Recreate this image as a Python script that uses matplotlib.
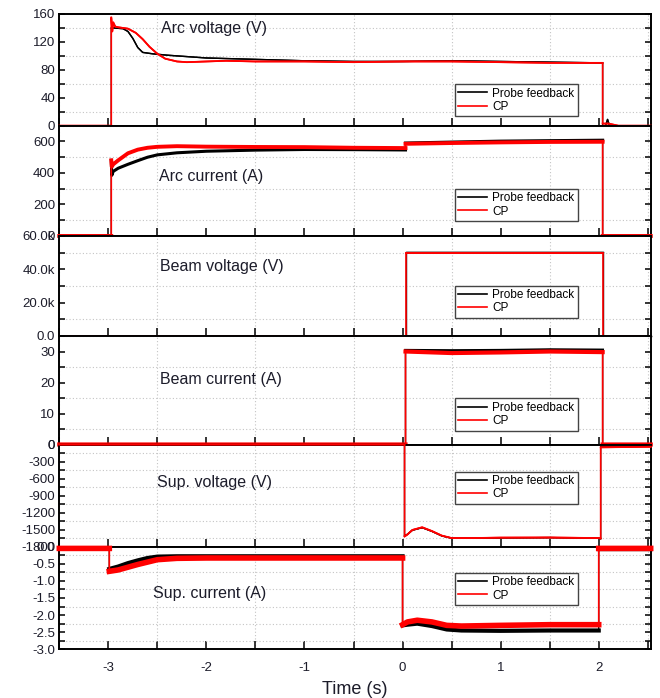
"""Six stacked time traces: probe feedback vs CP for arc, beam and suppressor supplies."""

import matplotlib
matplotlib.use("Agg")
import matplotlib.pyplot as plt
import numpy as np
from matplotlib.ticker import FuncFormatter, MultipleLocator

plt.rcParams["font.family"] = ["Liberation Sans", "DejaVu Sans"]
plt.rcParams["axes.unicode_minus"] = False

# ---- data (time in s) ----
arc_v_probe_t = [-3.5, -2.97, -2.97, -2.95, -2.85, -2.8, -2.75, -2.7, -2.65, -2.55, -2.4, -2.2,
                 -2.0, -1.5, -1.0, -0.5, 0.0, 0.5, 1.0, 1.5, 2.04, 2.04, 2.07, 2.09, 2.11, 2.53]
arc_v_probe = [0, 0, 140, 140, 139, 135, 125, 112, 105, 103, 101, 99,
               97, 95, 93, 92, 92, 93, 92, 91, 90, 0, 0, 9, 0, 0]
arc_v_cp_t = [-3.5, -2.97, -2.97, -2.96, -2.95, -2.93, -2.9, -2.8, -2.72, -2.65, -2.58, -2.5,
              -2.42, -2.3, -2.2, -2.0, -1.8, -1.5, -1.0, -0.5, 0.0, 0.5, 1.0, 1.5, 2.04, 2.04,
              2.1, 2.2, 2.53]
arc_v_cp = [0, 0, 155, 135, 148, 142, 141, 139, 133, 124, 113, 103,
            96, 92, 91, 92, 93, 92, 92, 91, 92, 92, 91, 90, 90, 3,
            3, 0, 0]

arc_i_t = [-3.5, -2.97, -2.97, -2.965, -2.95, -2.9, -2.8, -2.7, -2.6, -2.5, -2.3, -2.0,
           -1.5, -1.0, -0.5, 0.03, 0.03, 0.5, 1.0, 1.5, 2.04, 2.04, 2.53]
arc_i_probe = [0, 0, 480, 385, 410, 430, 455, 478, 500, 515, 528, 538,
               545, 549, 548, 546, 590, 596, 602, 605, 608, 0, 0]
arc_i_cp = [0, 0, 480, 440, 455, 480, 525, 548, 560, 566, 570, 567,
            565, 564, 560, 558, 585, 590, 594, 597, 598, 0, 0]

beam_v_t = [-3.5, 0.03, 0.03, 2.04, 2.04, 2.53]
beam_v_probe = [0, 0, 50500, 50500, 0, 0]
beam_v_cp = [0, 0, 50000, 50000, 0, 0]

beam_i_t = [-3.5, 0.03, 0.03, 0.5, 1.0, 1.5, 2.04, 2.04, 2.53]
beam_i_probe = [0, 0, 30.4, 30.3, 30.4, 30.6, 30.5, 0, 0]
beam_i_cp = [0, 0, 30.0, 29.5, 29.7, 30.0, 29.8, 0, 0]

sup_v_t = [-3.5, 0.02, 0.02, 0.05, 0.1, 0.2, 0.3, 0.4, 0.5, 0.7, 1.0, 1.5, 2.0, 2.02, 2.02, 2.53]
sup_v_probe = [0, 0, -1610, -1580, -1510, -1465, -1530, -1610, -1650, -1650, -1645, -1640,
               -1650, -1660, -40, -30]
sup_v_cp = [0, 0, -1620, -1585, -1505, -1458, -1525, -1605, -1648, -1648, -1640, -1638,
            -1648, -1655, -50, -40]

sup_i_t = [-3.5, -2.99, -2.99, -2.9, -2.8, -2.7, -2.6, -2.5, -2.3, -2.0, -1.0, 0.0, 0.0,
           0.05, 0.15, 0.3, 0.45, 0.6, 1.0, 1.5, 2.0, 2.0, 2.53]
sup_i_probe = [-0.05, -0.05, -0.65, -0.58, -0.48, -0.40, -0.33, -0.29, -0.28, -0.28, -0.28,
               -0.28, -2.3, -2.28, -2.25, -2.32, -2.42, -2.45, -2.46, -2.45, -2.45, -0.07, -0.07]
sup_i_cp = [-0.05, -0.05, -0.72, -0.68, -0.60, -0.52, -0.45, -0.38, -0.34, -0.33, -0.33,
            -0.33, -2.28, -2.2, -2.15, -2.2, -2.3, -2.32, -2.30, -2.28, -2.28, -0.05, -0.05]

panel_titles = ["Arc voltage (V)", "Arc current (A)", "Beam voltage (V)",
                "Beam current (A)", "Sup. voltage (V)", "Sup. current (A)"]
x_ticks = [-3, -2, -1, 0, 1, 2]

# ---- layout (pixel edges of the stacked panels) ----
W, H = 660, 698
LEFT, RIGHT = 59.3, 650.7
EDGES = [14, 125.7, 236, 336, 444.5, 546.7, 649.3]
TEXT_COLOR = "#1c1c2a"


def kilo(value, _pos):
    return "0.0" if value == 0 else f"{value / 1000:.1f}k"


def one_decimal(value, _pos):
    return f"{value:.1f}"


def break_steps(t, y):
    """Split a trace at its vertical steps so a noisy band can be drawn thick."""
    t_out, y_out = [t[0]], [y[0]]
    for i in range(1, len(t)):
        if t[i] == t[i - 1]:
            t_out.append(np.nan)
            y_out.append(np.nan)
        t_out.append(t[i])
        y_out.append(y[i])
    return t_out, y_out


panels = [
    # t_probe, probe, t_cp, cp, ylim, major, minor, formatter, band lw (probe, cp), label xy, legend y
    (arc_v_probe_t, arc_v_probe, arc_v_cp_t, arc_v_cp, (0, 160), 40, 20, None, (1.0, 1.3), (0.172, 0.866), 0.373),
    (arc_i_t, arc_i_probe, arc_i_t, arc_i_cp, (0, 700), 200, 100, None, (2.2, 2.8), (0.169, 0.536), 0.427),
    (beam_v_t, beam_v_probe, beam_v_t, beam_v_cp, (0, 60000), 20000, 10000, kilo, (1.0, 1.3), (0.170, 0.70), 0.503),
    (beam_i_t, beam_i_probe, beam_i_t, beam_i_cp, (0, 35), 10, 5, None, (2.0, 3.0), (0.170, 0.60), 0.426),
    (sup_v_t, sup_v_probe, sup_v_t, sup_v_cp, (-1800, 0), 300, 150, None, (1.0, 1.3), (0.165, 0.63), 0.735),
    (sup_i_t, sup_i_probe, sup_i_t, sup_i_cp, (-3, 0), 0.5, 0.25, one_decimal, (3.0, 4.0), (0.158, 0.54), 0.745),
]

fig = plt.figure(figsize=(W / 100, H / 100), dpi=100)

axes = []
for idx, (tp, yp, tc, yc, ylim, major, minor, fmt, band_lw, label_xy, leg_y) in enumerate(panels):
    top, bottom = EDGES[idx], EDGES[idx + 1]
    ax = fig.add_axes([LEFT / W, 1 - bottom / H, (RIGHT - LEFT) / W, (bottom - top) / H])
    axes.append(ax)

    # thin trace including the vertical steps, then the thicker noisy band without them
    ax.plot(tp, yp, color="black", lw=1.0, label="Probe feedback", zorder=3, clip_on=False)
    ax.plot(*break_steps(tp, yp), color="black", lw=band_lw[0], zorder=3, clip_on=False)
    ax.plot(tc, yc, color="#ff0000", lw=1.2, label="CP", zorder=4, clip_on=False)
    ax.plot(*break_steps(tc, yc), color="#ff0000", lw=band_lw[1], zorder=4, clip_on=False)

    ax.set_xlim(-3.5, 2.53)
    ax.set_ylim(*ylim)
    ax.xaxis.set_major_locator(MultipleLocator(1))
    ax.xaxis.set_minor_locator(MultipleLocator(0.5))
    ax.yaxis.set_major_locator(MultipleLocator(major))
    ax.yaxis.set_minor_locator(MultipleLocator(minor))
    if fmt is not None:
        ax.yaxis.set_major_formatter(FuncFormatter(fmt))

    ax.grid(which="minor", color="#c4c4c4", linestyle=(0, (1, 2)), linewidth=0.8)
    ax.grid(which="major", visible=False)

    ax.tick_params(axis="y", which="both", direction="in", length=4, width=1.1,
                   left=True, right=True, labelsize=9.5, labelcolor=TEXT_COLOR, pad=3)
    ax.tick_params(axis="x", which="both", direction="in", length=6, width=1.1,
                   bottom=True, top=False, labelsize=9.5, labelcolor=TEXT_COLOR, pad=9)
    if idx < len(panels) - 1:
        ax.tick_params(axis="x", labelbottom=False)
    else:
        ax.set_xticks(x_ticks)
    for spine in ax.spines.values():
        spine.set_linewidth(1.4)

    ax.text(*label_xy, panel_titles[idx], transform=ax.transAxes, fontsize=11.5,
            color=TEXT_COLOR, ha="left", va="center")

    leg = ax.legend(loc="upper left", bbox_to_anchor=(0.669, leg_y), fontsize=8.5,
                    frameon=True, fancybox=False, framealpha=1, edgecolor="#444444",
                    handlelength=2.4, handletextpad=0.45, borderpad=0.3, labelspacing=0.1,
                    borderaxespad=0)
    leg.get_frame().set_linewidth(1.0)
    for line in leg.get_lines():
        line.set_linewidth(1.2)

axes[-1].set_xlabel("Time (s)", fontsize=13, color=TEXT_COLOR, labelpad=5)

fig.savefig("out.png", dpi=100)
